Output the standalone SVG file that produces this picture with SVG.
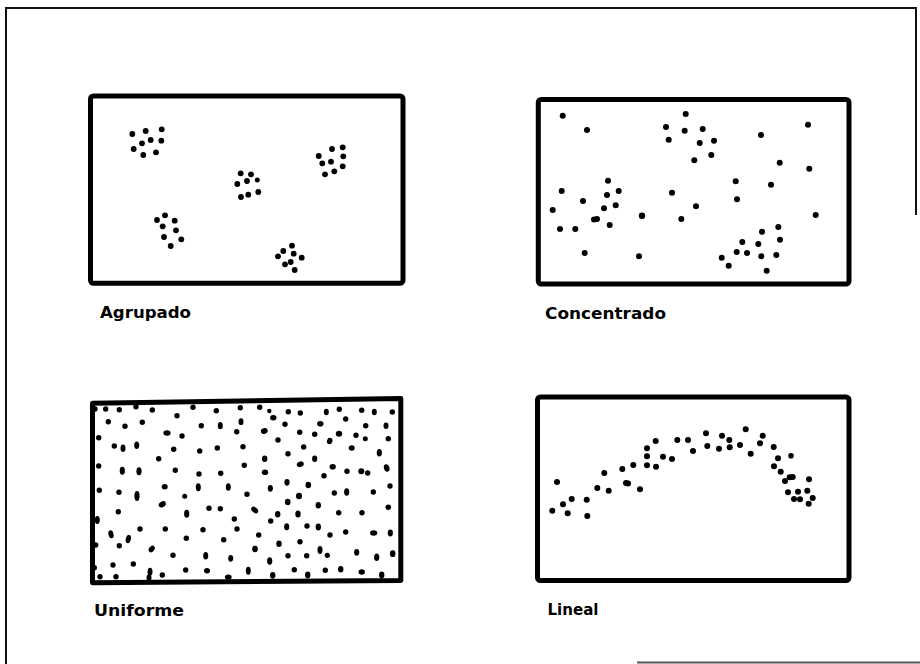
<svg xmlns="http://www.w3.org/2000/svg" width="920" height="664" viewBox="0 0 920 664">
<style>
.frame{fill:none;stroke:#111;stroke-width:2}
.box{fill:#fff;stroke:#000;stroke-width:5;stroke-linejoin:round}
.d circle,.d ellipse{fill:#000}
.lbl{font-family:"DejaVu Sans","Liberation Sans",Arial,sans-serif;font-size:16.5px;font-weight:bold;fill:#000}
</style>
<rect width="920" height="664" fill="#fff"/>
<g id="frame">
<path class="frame" d="M6,664 L6,8 L916,8 L916,215"/>
<path d="M637,662.5 L920,662.5" stroke="#555" stroke-width="2" fill="none"/>
</g>

<g id="agrupado">
<rect class="box" x="90.5" y="96" width="312.5" height="187.3" rx="3"/>
<g class="d">
<circle cx="132.3" cy="134" r="2.9"/><circle cx="145.7" cy="131" r="2.9"/><circle cx="161.7" cy="129.3" r="2.9"/>
<circle cx="142" cy="143.3" r="2.9"/><circle cx="150.7" cy="140" r="2.9"/><circle cx="161.3" cy="140.7" r="2.9"/>
<circle cx="133.7" cy="149" r="2.9"/><circle cx="143.3" cy="155" r="2.9"/><circle cx="156" cy="152.3" r="2.9"/>
<circle cx="240.7" cy="173.3" r="2.9"/><circle cx="251" cy="174.3" r="2.9"/><circle cx="237.3" cy="184" r="2.9"/>
<circle cx="247" cy="181" r="2.9"/><circle cx="257.3" cy="180" r="2.5"/><circle cx="241" cy="197" r="2.9"/>
<circle cx="248.3" cy="194.7" r="2.9"/><circle cx="258.3" cy="192" r="2.9"/>
<circle cx="332" cy="149" r="2.9"/><circle cx="342.7" cy="147.3" r="2.9"/><circle cx="318.7" cy="156" r="2.9"/>
<circle cx="343.3" cy="156.3" r="2.9"/><circle cx="322.3" cy="163.3" r="2.9"/><circle cx="331" cy="161.7" r="2.9"/>
<circle cx="325" cy="174.3" r="2.9"/><circle cx="334.3" cy="171.3" r="2.9"/><circle cx="342.7" cy="166.3" r="2.9"/>
<circle cx="165" cy="215.3" r="2.9"/><circle cx="157" cy="220" r="2.9"/><circle cx="174.7" cy="220.7" r="2.9"/>
<circle cx="162.7" cy="226.3" r="2.9"/><circle cx="176" cy="230.3" r="2.9"/><circle cx="164" cy="237" r="2.9"/>
<circle cx="181.3" cy="239.3" r="2.9"/><circle cx="170.7" cy="246" r="2.9"/>
<circle cx="292" cy="245.7" r="2.9"/><circle cx="283.3" cy="251" r="2.9"/><circle cx="293.7" cy="253.7" r="2.9"/>
<circle cx="278" cy="256.3" r="2.9"/><circle cx="301.7" cy="257.7" r="2.9"/><circle cx="290.7" cy="262" r="2.9"/>
<circle cx="285" cy="264.3" r="2.9"/><circle cx="294.7" cy="270" r="2.9"/>
</g>
<text class="lbl" x="100" y="318" textLength="91" lengthAdjust="spacingAndGlyphs">Agrupado</text>
</g>

<g id="concentrado">
<rect class="box" x="538.3" y="99.5" width="310.7" height="184.5" rx="3"/>
<g class="d">
<circle cx="562.7" cy="115.7" r="3"/><circle cx="587" cy="130" r="3"/><circle cx="685.7" cy="114" r="3"/>
<circle cx="666" cy="127" r="3"/><circle cx="684.7" cy="130.7" r="3"/><circle cx="702.7" cy="129" r="3"/>
<circle cx="668.7" cy="139.7" r="3"/><circle cx="699.7" cy="143" r="3"/><circle cx="714" cy="140.7" r="3"/>
<circle cx="711.3" cy="155" r="3"/><circle cx="694.3" cy="160.3" r="3"/><circle cx="761" cy="135" r="3"/>
<circle cx="808" cy="124.7" r="3"/><circle cx="779.7" cy="162.7" r="3"/><circle cx="809.3" cy="168.7" r="3"/>
<circle cx="771" cy="184.7" r="3"/><circle cx="735.7" cy="181.3" r="3"/><circle cx="737" cy="199.3" r="3"/>
<circle cx="815.7" cy="215" r="3"/><circle cx="608" cy="180.7" r="3"/><circle cx="561.7" cy="191" r="3"/>
<circle cx="618.7" cy="191" r="3"/><circle cx="607" cy="195" r="3"/><circle cx="583" cy="201" r="3"/>
<circle cx="615.7" cy="205.3" r="3"/><circle cx="604" cy="208.3" r="3"/><circle cx="552.7" cy="210" r="3"/>
<circle cx="594" cy="219.5" r="3"/><circle cx="597" cy="219" r="3"/><circle cx="609.7" cy="225" r="3"/>
<circle cx="560" cy="229" r="3"/><circle cx="575.3" cy="229" r="3"/><circle cx="642" cy="215.7" r="3.2"/>
<circle cx="672" cy="192.7" r="3"/><circle cx="696" cy="206.3" r="3"/><circle cx="681.3" cy="219" r="3"/>
<circle cx="584.7" cy="253" r="3"/><circle cx="639" cy="256.3" r="3"/><circle cx="762" cy="231.7" r="3"/>
<circle cx="778.3" cy="227" r="3"/><circle cx="780" cy="239.7" r="3"/><circle cx="742.3" cy="242" r="3"/>
<circle cx="758.3" cy="244" r="3"/><circle cx="736.7" cy="252" r="3"/><circle cx="747" cy="253" r="3"/>
<circle cx="761.3" cy="256.3" r="3"/><circle cx="776.3" cy="255" r="3"/><circle cx="721.7" cy="257.7" r="3"/>
<circle cx="728.7" cy="265.7" r="3"/><circle cx="766.7" cy="270.7" r="3"/>
</g>
<text class="lbl" x="545" y="318.7" textLength="121" lengthAdjust="spacingAndGlyphs">Concentrado</text>
</g>

<g id="uniforme">
<path class="box" d="M92.5,403.3 L400.8,398.5 L400.8,580.5 L92.5,582.7 Z"/>
<g class="d">
<circle cx="95" cy="409" r="2.7"/><circle cx="105.7" cy="409" r="2.7"/><circle cx="119.3" cy="409.7" r="2.7"/>
<circle cx="136" cy="406.7" r="2.7"/><circle cx="152.3" cy="410" r="2.7"/><circle cx="193" cy="407.3" r="2.7"/>
<circle cx="216.3" cy="410.7" r="2.7"/><circle cx="240.3" cy="407.7" r="2.7"/><circle cx="108.3" cy="421.7" r="2.7"/>
<circle cx="125" cy="426.3" r="2.7"/><circle cx="142.3" cy="422.3" r="2.7"/><circle cx="177" cy="415.7" r="2.7"/>
<circle cx="201.3" cy="425.7" r="2.7"/><ellipse cx="220.3" cy="425.7" rx="2.5" ry="3.6"/><ellipse cx="241" cy="421.7" rx="2.5" ry="3.4"/>
<ellipse cx="167" cy="433" rx="3.6" ry="2.7"/><circle cx="182" cy="436" r="2.7"/><circle cx="236.7" cy="431.7" r="2.7"/>
<circle cx="98.7" cy="437.7" r="2.7"/><circle cx="114.3" cy="446" r="2.7"/><ellipse cx="123" cy="448.3" rx="2.5" ry="3.8"/>
<ellipse cx="136.7" cy="445.3" rx="2.5" ry="3.8"/><circle cx="173.7" cy="449.3" r="2.7"/><circle cx="199.7" cy="451" r="2.7"/>
<circle cx="217.3" cy="448" r="2.7"/><circle cx="243" cy="446.7" r="2.7"/><circle cx="158.7" cy="458.7" r="2.7"/>
<circle cx="98.7" cy="466" r="2.7"/><ellipse cx="122.3" cy="470.7" rx="2.6" ry="4"/><ellipse cx="139" cy="471.3" rx="2.6" ry="4"/>
<circle cx="175.3" cy="470.3" r="2.7"/><circle cx="199" cy="474" r="2.7"/><circle cx="220.7" cy="473.3" r="2.7"/>
<circle cx="244.3" cy="465.3" r="2.7"/><circle cx="99.3" cy="490.3" r="2.7"/><circle cx="119" cy="492.3" r="2.7"/>
<ellipse cx="137" cy="496" rx="2.6" ry="5"/><ellipse cx="164.7" cy="486.7" rx="3" ry="2.7"/><ellipse cx="198.3" cy="487.3" rx="2.5" ry="4"/>
<ellipse cx="228.3" cy="487" rx="2.5" ry="3.8"/><circle cx="247" cy="494.3" r="2.7"/><circle cx="184.7" cy="496.3" r="2.5"/>
<ellipse cx="162.3" cy="504.3" rx="3.8" ry="2.8" transform="rotate(-30 162.3 504.3)"/><circle cx="118.3" cy="511.7" r="2.7"/>
<ellipse cx="186.7" cy="513.7" rx="2.6" ry="4"/><circle cx="209" cy="508.3" r="2.7"/><circle cx="220.3" cy="508.7" r="2.7"/>
<ellipse cx="97.3" cy="520" rx="2.5" ry="4"/><circle cx="234.3" cy="519" r="2.7"/><circle cx="140" cy="529" r="2.7"/>
<circle cx="165.3" cy="529" r="2.7"/><circle cx="203" cy="529.7" r="2.7"/><circle cx="237" cy="529" r="2.7"/>
<ellipse cx="111" cy="534.3" rx="2.5" ry="4" transform="rotate(-15 111 534.3)"/><ellipse cx="128.3" cy="539" rx="2.5" ry="4.2" transform="rotate(15 128.3 539)"/>
<circle cx="186.3" cy="538.3" r="2.7"/><circle cx="223.7" cy="539.7" r="2.7"/><circle cx="95.7" cy="545" r="2.7"/>
<circle cx="119.3" cy="545.7" r="2.7"/><ellipse cx="151.7" cy="549" rx="2.6" ry="3.6" transform="rotate(40 151.7 549)"/><circle cx="173" cy="555.3" r="2.7"/>
<ellipse cx="205.7" cy="555.7" rx="2.5" ry="3.8"/><ellipse cx="230.7" cy="558.3" rx="2.5" ry="3.4"/><circle cx="113" cy="565" r="2.7"/>
<circle cx="133.3" cy="564" r="2.7"/><circle cx="94.3" cy="567.7" r="2.7"/><ellipse cx="150" cy="571.7" rx="2.5" ry="4"/>
<circle cx="162.3" cy="575" r="2.7"/><circle cx="185.7" cy="570" r="2.7"/><ellipse cx="207" cy="570.7" rx="3" ry="2.7"/>
<ellipse cx="248.3" cy="570.7" rx="2.5" ry="4"/><circle cx="100" cy="576.7" r="2.7"/><circle cx="116" cy="576.7" r="2.7"/>
<ellipse cx="149" cy="577.7" rx="2.5" ry="3.5"/><ellipse cx="228.3" cy="577" rx="3.4" ry="2.6"/>
<circle cx="259.7" cy="407.3" r="2.7"/><circle cx="269.3" cy="411" r="2.2"/><ellipse cx="273.3" cy="417.7" rx="3.2" ry="2.7"/>
<circle cx="288.3" cy="411.7" r="2.7"/><circle cx="300.3" cy="413" r="2.7"/><ellipse cx="326.3" cy="412" rx="2.5" ry="3.3"/>
<circle cx="339.3" cy="409.3" r="2.7"/><circle cx="345.7" cy="419" r="2.7"/><circle cx="361.7" cy="410.3" r="2.7"/>
<ellipse cx="374.3" cy="412" rx="2.5" ry="3.3"/><circle cx="392.3" cy="412" r="2.7"/><circle cx="285" cy="424.3" r="2.7"/>
<ellipse cx="320.3" cy="423.7" rx="3.2" ry="2.8"/><circle cx="365.7" cy="425.7" r="2.7"/><ellipse cx="386" cy="425.7" rx="2.5" ry="3.3"/>
<ellipse cx="264.3" cy="431" rx="3.5" ry="2.8" transform="rotate(-20 264.3 431)"/><circle cx="299.7" cy="432.3" r="2.7"/>
<circle cx="314.7" cy="434.3" r="2.7"/><ellipse cx="339" cy="433.7" rx="3.2" ry="3"/><circle cx="356" cy="435.3" r="2.7"/>
<circle cx="365.3" cy="438.7" r="2.5"/><circle cx="388.3" cy="438.7" r="2.7"/><circle cx="278" cy="440" r="2.7"/>
<ellipse cx="329.7" cy="441" rx="2.7" ry="3.3" transform="rotate(20 329.7 441)"/><circle cx="303.7" cy="447" r="2.7"/>
<ellipse cx="351.7" cy="448" rx="3" ry="2.7"/><circle cx="288" cy="453.7" r="2.7"/><ellipse cx="379.3" cy="452.7" rx="2.6" ry="3.8"/>
<ellipse cx="264.7" cy="458.7" rx="2.7" ry="3.3"/><ellipse cx="314.7" cy="458.7" rx="2.6" ry="3.3"/>
<ellipse cx="300.3" cy="464.3" rx="3.6" ry="2.7" transform="rotate(-20 300.3 464.3)"/><ellipse cx="332.7" cy="466.7" rx="3.2" ry="2.8"/>
<circle cx="361.3" cy="471.3" r="3"/><circle cx="367.7" cy="473" r="2.7"/><circle cx="347" cy="471.3" r="2.7"/>
<ellipse cx="386.7" cy="468" rx="2.8" ry="3.8" transform="rotate(-15 386.7 468)"/><ellipse cx="265" cy="472.3" rx="3.2" ry="2.8"/>
<circle cx="324" cy="475.7" r="2.7"/><ellipse cx="287" cy="482.3" rx="2.6" ry="3.4"/><ellipse cx="308.3" cy="485" rx="2.8" ry="3.2"/>
<circle cx="390" cy="486" r="2.7"/><ellipse cx="270.3" cy="488.3" rx="2.6" ry="3.4"/><circle cx="334.3" cy="493" r="2.7"/>
<ellipse cx="346.7" cy="492" rx="2.6" ry="3.8"/><circle cx="373.3" cy="492" r="2.7"/><ellipse cx="299" cy="496" rx="3" ry="3.2"/>
<ellipse cx="287.7" cy="502" rx="2.8" ry="3.3"/><ellipse cx="318.3" cy="505.3" rx="2.7" ry="3.3"/><circle cx="388.3" cy="507.3" r="2.8"/>
<ellipse cx="254.7" cy="510" rx="4" ry="2.6" transform="rotate(40 254.7 510)"/><ellipse cx="277.7" cy="514.3" rx="2.7" ry="3.2"/>
<ellipse cx="298" cy="514" rx="2.7" ry="3.6"/><circle cx="338.7" cy="512.7" r="2.7"/><circle cx="362" cy="512.7" r="2.7"/>
<circle cx="270.7" cy="521" r="2.7"/><ellipse cx="286.7" cy="526.7" rx="2.6" ry="3.5"/><circle cx="307" cy="526" r="2.7"/>
<ellipse cx="318.3" cy="527" rx="2.7" ry="3.4"/><circle cx="345.7" cy="532" r="2.7"/><ellipse cx="373.7" cy="533" rx="3.6" ry="2.7"/>
<ellipse cx="390.3" cy="533" rx="2.6" ry="3.4"/><circle cx="258.7" cy="535" r="2.7"/><circle cx="330" cy="535" r="2.7"/>
<ellipse cx="279" cy="543.7" rx="2.7" ry="3.3"/><circle cx="300" cy="541.7" r="2.7"/><ellipse cx="255" cy="549" rx="2.8" ry="3.2"/>
<ellipse cx="320" cy="550" rx="2.5" ry="4"/><circle cx="327.3" cy="555.3" r="2.6"/><circle cx="288" cy="555.7" r="2.7"/>
<circle cx="306.7" cy="555.7" r="2.7"/><ellipse cx="356.7" cy="552.3" rx="2.6" ry="3.4"/><ellipse cx="376.7" cy="557.3" rx="2.6" ry="3.8"/>
<ellipse cx="392.7" cy="553.7" rx="2.8" ry="3.4"/><ellipse cx="269.7" cy="561" rx="2.6" ry="3.8"/><circle cx="294.3" cy="569.7" r="2.7"/>
<circle cx="325.3" cy="570.3" r="2.7"/><ellipse cx="340.7" cy="569.3" rx="2.7" ry="3.3"/><ellipse cx="361.7" cy="572" rx="3.2" ry="2.8"/>
<ellipse cx="272.7" cy="575.3" rx="2.7" ry="3.4"/><ellipse cx="307.7" cy="575" rx="2.7" ry="3.4"/><ellipse cx="381.7" cy="575" rx="2.7" ry="3.4"/>
</g>
<text class="lbl" x="94" y="616" textLength="90" lengthAdjust="spacingAndGlyphs">Uniforme</text>
</g>

<g id="lineal">
<rect class="box" x="537.5" y="397" width="311.5" height="183.5" rx="3"/>
<g class="d">
<circle cx="552.3" cy="510.7" r="3"/><circle cx="557" cy="482" r="3"/><circle cx="563" cy="504.3" r="3"/>
<circle cx="567.7" cy="513.3" r="3"/><circle cx="571.7" cy="499" r="3"/><circle cx="586.7" cy="499.7" r="3"/>
<circle cx="587.3" cy="516" r="3"/><circle cx="597.3" cy="488" r="3"/><circle cx="604.3" cy="473" r="3"/>
<circle cx="608.7" cy="490.7" r="3"/><circle cx="622.3" cy="469" r="3"/><circle cx="626" cy="483" r="3"/>
<circle cx="628" cy="483.5" r="3"/><circle cx="633.3" cy="465" r="3"/><circle cx="640" cy="489.3" r="3"/>
<circle cx="647" cy="448.3" r="3"/><circle cx="647" cy="456.3" r="3"/><circle cx="647" cy="465.3" r="3"/>
<circle cx="655.7" cy="441" r="3"/><circle cx="656" cy="466.7" r="3"/><circle cx="663" cy="456.7" r="3"/>
<circle cx="672" cy="459" r="3"/><circle cx="677.3" cy="440" r="3"/><circle cx="688" cy="440" r="3"/>
<circle cx="693" cy="451" r="3"/><circle cx="706" cy="433.3" r="3"/><circle cx="707.3" cy="446" r="3"/>
<circle cx="719" cy="448.7" r="3"/><circle cx="722" cy="435.7" r="3"/><circle cx="729.3" cy="440" r="3"/>
<circle cx="729.7" cy="447.3" r="3"/><circle cx="740" cy="445" r="3"/><circle cx="745.7" cy="429.3" r="3"/>
<circle cx="750.7" cy="453.7" r="3"/><circle cx="760" cy="443.3" r="3"/><circle cx="762.7" cy="435.7" r="3"/>
<circle cx="773.7" cy="447" r="3"/><circle cx="778" cy="458.3" r="3"/><circle cx="774" cy="466.3" r="3"/>
<circle cx="780.7" cy="471.7" r="3"/><circle cx="791" cy="455.7" r="2.8"/><circle cx="789.7" cy="477.3" r="3"/>
<circle cx="792.7" cy="477" r="3"/><circle cx="785" cy="481" r="3"/><circle cx="788" cy="492.3" r="3"/>
<circle cx="794" cy="499" r="3"/><circle cx="798" cy="491.7" r="3"/><circle cx="800" cy="499.3" r="3"/>
<circle cx="807.3" cy="490.7" r="3"/><circle cx="809" cy="479.3" r="3"/><circle cx="812.7" cy="498" r="3"/>
<circle cx="808.7" cy="503.7" r="3"/>
</g>
<text class="lbl" x="547.5" y="615" textLength="51" lengthAdjust="spacingAndGlyphs">Lineal</text>
</g>
</svg>
